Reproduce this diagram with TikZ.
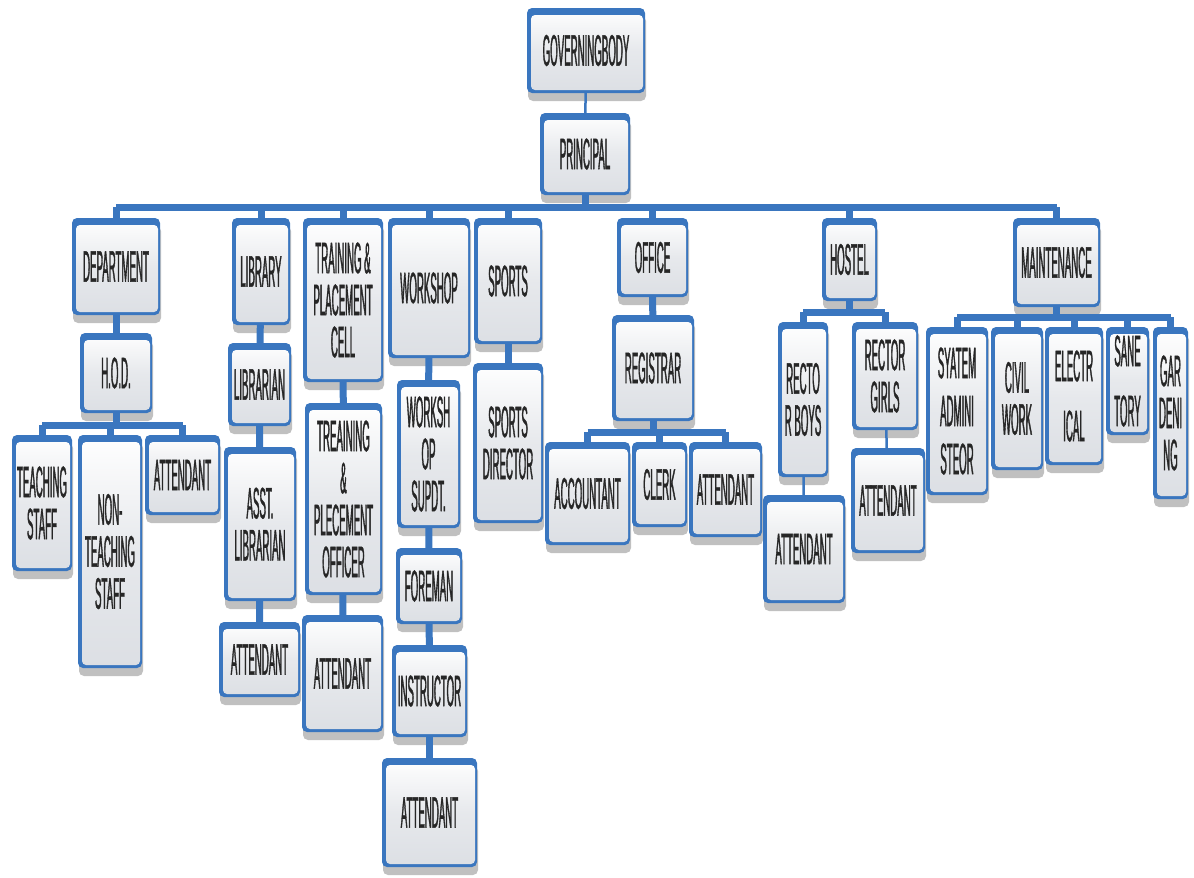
\documentclass[tikz,border=0pt]{standalone}
\usepackage{fontspec}
\newfontfamily\boxfont{Liberation Sans}[FakeStretch=0.22, FakeBold=0.8]
\usetikzlibrary{shadows}
\definecolor{boxblue}{HTML}{3A76BF}
\definecolor{boxgray}{HTML}{DCDFE4}

\tikzset{
  dims/.style 2 args={minimum width=#1pt, minimum height=#2pt},
  unit/.style={rounded corners=5pt, fill=boxblue, inner sep=0pt, align=center,
    font={\boxfont\fontsize{44}{42}\selectfont}, text=black!85,
    drop shadow={shadow xshift=1pt, shadow yshift=-8pt, fill=black!45, opacity=0.55},
    path picture={\shade[top color=white, bottom color=boxgray, middle color=boxgray!70, rounded corners=4pt]
      ([xshift=4pt,yshift=-7pt]path picture bounding box.north west) rectangle
      ([xshift=-2pt,yshift=3pt]path picture bounding box.south east);}},
  bus/.style={draw=boxblue, line width=7pt},
  link/.style={draw=boxblue, line width=7pt},
  thin/.style={draw=boxblue, line width=2.5pt}
}

\begin{document}
\begin{tikzpicture}[x=1pt, y=-1pt]
    \useasboundingbox (0,0) rectangle (1194,878);

    % top
    \node[unit, dims={118}{85}] (gov) at (586,50.5) {GOVERNINGBODY};
    \node[unit, dims={90}{82}] (principal) at (585,154) {PRINCIPAL};

    % sections
    \node[unit, dims={88}{97}] (department) at (116,266.5) {DEPARTMENT};
    \node[unit, dims={58}{107}] (library) at (261,271.5) {LIBRARY};
    \node[unit, dims={80}{164}] (tpcell) at (343,300) {TRAINING \&\\PLACEMENT\\CELL};
    \node[unit, dims={82}{140}] (workshop) at (429,288) {WORKSHOP};
    \node[unit, dims={68}{126}] (sports) at (508,281) {SPORTS};
    \node[unit, dims={71}{79}] (office) at (652.5,257.5) {OFFICE};
    \node[unit, dims={55}{83}] (hostel) at (849.5,259.5) {HOSTEL};
    \node[unit, dims={87}{89}] (maintenance) at (1056.5,262.5) {MAINTENANCE};

    % department
    \node[unit, dims={72}{80}] (hod) at (116,373) {H.O.D.};
    \node[unit, dims={60}{136}] (teaching) at (42,503) {TEACHING\\STAFF};
    \node[unit, dims={64}{233}] (nonteaching) at (110,551.5) {NON-\\TEACHING\\STAFF};
    \node[unit, dims={75}{80}] (deptattendant) at (182.5,475) {ATTENDANT};

    % library
    \node[unit, dims={63}{83}] (librarian) at (259.5,384.5) {LIBRARIAN};
    \node[unit, dims={72}{154}] (asstlibrarian) at (260,524) {ASST.\\LIBRARIAN};
    \node[unit, dims={81}{75}] (libattendant) at (259.5,659.5) {ATTENDANT};

    % training and placement
    \node[unit, dims={77}{192}] (tpofficer) at (343.5,499) {TREAINING\\\&\\PLECEMENT\\OFFICER};
    \node[unit, dims={81}{117}] (tpattendant) at (342.5,673.5) {ATTENDANT};

    % workshop
    \node[unit, dims={63}{148}] (supdt) at (428.5,454) {WORKSH\\OP\\SUPDT.};
    \node[unit, dims={66}{76}] (foreman) at (429,586) {FOREMAN};
    \node[unit, dims={75}{92}] (instructor) at (429.5,691) {INSTRUCTOR};
    \node[unit, dims={95}{109}] (wsattendant) at (429.5,812.5) {ATTENDANT};

    % sports
    \node[unit, dims={70}{160}] (sportsdirector) at (508,443) {SPORTS\\DIRECTOR};

    % office
    \node[unit, dims={82}{106}] (registrar) at (653,368) {REGISTRAR};
    \node[unit, dims={85}{103}] (accountant) at (587.5,493.5) {ACCOUNTANT};
    \node[unit, dims={55}{85}] (clerk) at (659.5,484.5) {CLERK};
    \node[unit, dims={73}{95}] (offattendant) at (725.5,489.5) {ATTENDANT};

    % hostel
    \node[unit, dims={50}{155}] (rectorboys) at (803,399.5) {RECTO\\R BOYS};
    \node[unit, dims={82}{108}] (boysattendant) at (804,549) {ATTENDANT};
    \node[unit, dims={66}{108}] (rectorgirls) at (885,376) {RECTOR\\GIRLS};
    \node[unit, dims={74}{105}] (girlsattendant) at (888,500.5) {ATTENDANT};

    % maintenance
    \node[unit, dims={62}{168}] (sysadmin) at (957,411) {SYATEM\\[6pt]ADMINI\\[6pt]STEOR};
    \node[unit, dims={52}{143}] (civil) at (1017,398.5) {CIVIL\\WORK};
    \node[unit, dims={58}{138}] (electrical) at (1074,396) {ELECTR\\[18pt]ICAL};
    \node[unit, dims={43}{108}] (sanetory) at (1127.5,381) {SANE\\[18pt]TORY};
    \node[unit, dims={35}{172}] (gardening) at (1170.5,413) {GAR\\DENI\\NG};

    % buses
    \coordinate (mainbus) at (0,207);
    \coordinate (hodbus) at (0,425);
    \coordinate (officebus) at (0,432);
    \coordinate (hostelbus) at (0,312);
    \coordinate (maintbus) at (0,317);

    \draw[thin] (gov) -- (principal);
    \draw[bus] (principal.south) -- (principal.south |- mainbus);
    \draw[bus] (department.north |- mainbus) -- (maintenance.north |- mainbus);
    \foreach \c in {department,library,tpcell,workshop,sports,office,hostel,maintenance}
        \draw[bus] (\c.north) -- (\c.north |- mainbus);

    \draw[bus] (hod.south) -- (hod.south |- hodbus);
    \draw[bus] (teaching.north |- hodbus) -- (deptattendant.north |- hodbus);
    \foreach \c in {teaching,nonteaching,deptattendant}
        \draw[bus] (\c.north) -- (\c.north |- hodbus);

    \draw[bus] (registrar.south) -- (registrar.south |- officebus);
    \draw[bus] (accountant.north |- officebus) -- (offattendant.north |- officebus);
    \foreach \c in {accountant,clerk,offattendant}
        \draw[bus] (\c.north) -- (\c.north |- officebus);

    \draw[bus] (hostel.south) -- (hostel.south |- hostelbus);
    \draw[bus] (rectorboys.north |- hostelbus) -- (rectorgirls.north |- hostelbus);
    \foreach \c in {rectorboys,rectorgirls}
        \draw[bus] (\c.north) -- (\c.north |- hostelbus);

    \draw[bus] (maintenance.south) -- (maintenance.south |- maintbus);
    \draw[bus] (sysadmin.north |- maintbus) -- (gardening.north |- maintbus);
    \foreach \c in {sysadmin,civil,electrical,sanetory,gardening}
        \draw[bus] (\c.north) -- (\c.north |- maintbus);

    % chains
    \draw[link] (department) -- (hod);
    \draw[link] (library) -- (librarian);
    \draw[link] (librarian) -- (asstlibrarian);
    \draw[link] (asstlibrarian) -- (libattendant);
    \draw[link] (tpcell) -- (tpofficer);
    \draw[link] (tpofficer) -- (tpattendant);
    \draw[link] (workshop) -- (supdt);
    \draw[link] (supdt) -- (foreman);
    \draw[link] (foreman) -- (instructor);
    \draw[link] (instructor) -- (wsattendant);
    \draw[link] (sports) -- (sportsdirector);
    \draw[link] (office) -- (registrar);
    \draw[thin] (rectorboys) -- (boysattendant);
    \draw[thin] (rectorgirls) -- (girlsattendant);
\end{tikzpicture}
\end{document}
